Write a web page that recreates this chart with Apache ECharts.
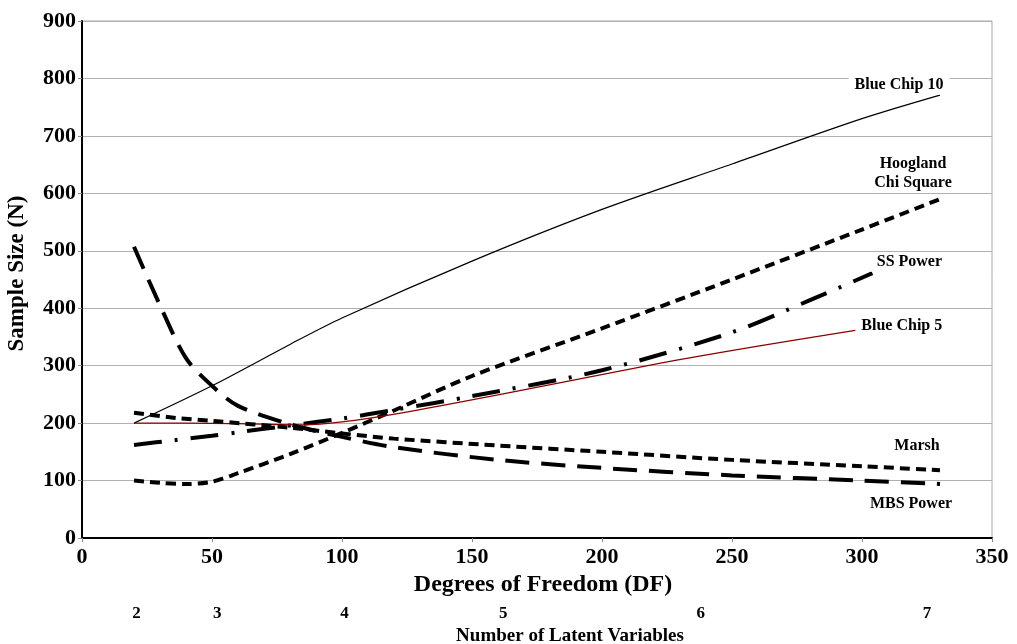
<!DOCTYPE html>
<html>
<head>
<meta charset="utf-8">
<script src="https://cdn.jsdelivr.net/npm/echarts@6/dist/echarts.min.js"></script>
<style>html,body{margin:0;padding:0;background:#fff}#c{width:1017px;height:644px}</style>
</head>
<body>
<div id="c"></div>
<script>
// ---- data ----
const dfBC10 = [20, 50, 80, 100, 150, 200, 250, 300, 330];
const nBC10  = [200, 265, 337, 383, 482, 572, 651, 730, 771];

const dfHoog = [20, 30, 40, 50, 60, 80, 100, 120, 150, 200, 250, 300, 330];
const nHoog  = [100, 96, 94, 98, 113, 146, 183, 222, 282, 365, 450, 537, 590];

const dfSS = [20, 35, 50, 60, 80, 100, 120, 150, 200, 250, 280, 304];
const nSS  = [162, 170, 178, 184, 196, 208, 223, 247, 292, 358, 414, 461];

const dfBC5 = [20, 40, 60, 85, 100, 122, 160, 222, 260, 298];
const nBC5  = [200, 200, 199, 197, 202, 217, 249, 304, 334, 362];

const dfMarsh = [20, 36, 50, 80, 100, 120, 160, 200, 250, 300, 330];
const nMarsh  = [218, 209, 204, 192, 182, 173, 161, 150, 136, 125, 118];

const dfMBS = [20, 30, 40, 50, 60, 80, 100, 120, 160, 200, 250, 300, 330];
const nMBS  = [507, 405, 313, 265, 230, 198, 176, 158, 136, 122, 109, 100, 94];

const latentDF     = [21, 52, 101, 162, 238, 325];
const latentLabels = ['2', '3', '4', '5', '6', '7'];

const seriesNames = ['Blue Chip 10', 'Hoogland\nChi Square', 'SS Power', 'Blue Chip 5', 'Marsh', 'MBS Power'];

// ---- chart ----
const FONT = "'Liberation Serif', 'Times New Roman', serif";
const pairs = (xs, ys) => xs.map((x, i) => [x, ys[i]]);

function mkSeries(name, data, lineStyle, labelOffset) {
  return {
    type: 'line',
    name: name,
    data: data,
    smooth: 0.3,
    showSymbol: false,
    symbol: 'none',
    silent: true,
    lineStyle: lineStyle,
    markPoint: {
      silent: true,
      symbol: 'circle',
      symbolSize: 0,
      data: [{ type: 'max', valueDim: 'x' }],
      label: {
        show: true,
        position: 'inside',
        offset: labelOffset,
        formatter: name,
        color: '#000',
        fontFamily: FONT,
        fontWeight: 'bold',
        fontSize: 16,
        lineHeight: 19,
        align: 'center',
        backgroundColor: '#fff',
        padding: [0, 6]
      }
    }
  };
}

const chart = echarts.init(document.getElementById('c'), null, { renderer: 'canvas' });
chart.setOption({
  animation: false,
  backgroundColor: '#fff',
  grid: {
    left: 82, top: 21, width: 910, height: 517,
    outerBoundsMode: 'none', containLabel: false,
    show: true, borderColor: '#a8a8a8', borderWidth: 1, backgroundColor: 'transparent'
  },
  xAxis: [
    {
      type: 'value', min: 0, max: 350, interval: 50,
      name: 'Degrees of Freedom (DF)', nameLocation: 'middle', nameGap: 26,
      nameTextStyle: { fontFamily: FONT, fontWeight: 'bold', fontSize: 24, color: '#000', padding: [0, 0, 0, 12] },
      axisLine: { show: true, onZero: false, lineStyle: { color: '#000', width: 2 } },
      axisTick: { show: true, length: 4, lineStyle: { color: '#888' } },
      axisLabel: { margin: 8, fontFamily: FONT, fontWeight: 'bold', fontSize: 22, color: '#000' },
      splitLine: { show: false }
    },
    {
      type: 'value', min: 0, max: 350, position: 'bottom',
      name: 'Number of Latent Variables', nameLocation: 'middle', nameGap: 89,
      nameTextStyle: { fontFamily: FONT, fontWeight: 'bold', fontSize: 19, color: '#000', padding: [0, 0, 0, 66] },
      axisLine: { show: false },
      axisTick: { show: false },
      axisLabel: {
        margin: 67, fontFamily: FONT, fontWeight: 'bold', fontSize: 17, color: '#000',
        customValues: latentDF,
        formatter: v => { const i = latentDF.indexOf(v); return i >= 0 ? latentLabels[i] : ''; }
      },
      splitLine: { show: false }
    }
  ],
  yAxis: {
    type: 'value', min: 0, max: 900, interval: 100,
    name: 'Sample Size (N)', nameLocation: 'middle', nameGap: 53,
    nameTextStyle: { fontFamily: FONT, fontWeight: 'bold', fontSize: 23, color: '#000', padding: [0, 0, 0, 12] },
    axisLine: { show: true, onZero: false, lineStyle: { color: '#000', width: 2 } },
    axisTick: { show: true, length: 4, lineStyle: { color: '#888' } },
    axisLabel: { margin: 6, fontFamily: FONT, fontWeight: 'bold', fontSize: 22, color: '#000' },
    splitLine: { show: true, lineStyle: { color: '#b0b0b0', width: 1 } }
  },
  series: [
    mkSeries(seriesNames[0], pairs(dfBC10, nBC10), { color: '#000', width: 1.2, type: 'solid' }, [-41, -10]),
    mkSeries(seriesNames[1], pairs(dfHoog, nHoog), { color: '#000', width: 4, type: [10, 6], cap: 'butt' }, [-27, -26]),
    mkSeries(seriesNames[2], pairs(dfSS, nSS), { color: '#000', width: 4, type: [28, 13, 3, 13], cap: 'butt' }, [37, -11]),
    mkSeries(seriesNames[3], pairs(dfBC5, nBC5), { color: '#8b0000', width: 1.2, type: 'solid' }, [45, -4]),
    mkSeries(seriesNames[4], pairs(dfMarsh, nMarsh), { color: '#000', width: 4, type: [10, 6], cap: 'butt' }, [-23, -24]),
    mkSeries(seriesNames[5], pairs(dfMBS, nMBS), { color: '#000', width: 4, type: [24, 12], cap: 'butt' }, [-29, 20])
  ]
});
</script>
</body>
</html>
